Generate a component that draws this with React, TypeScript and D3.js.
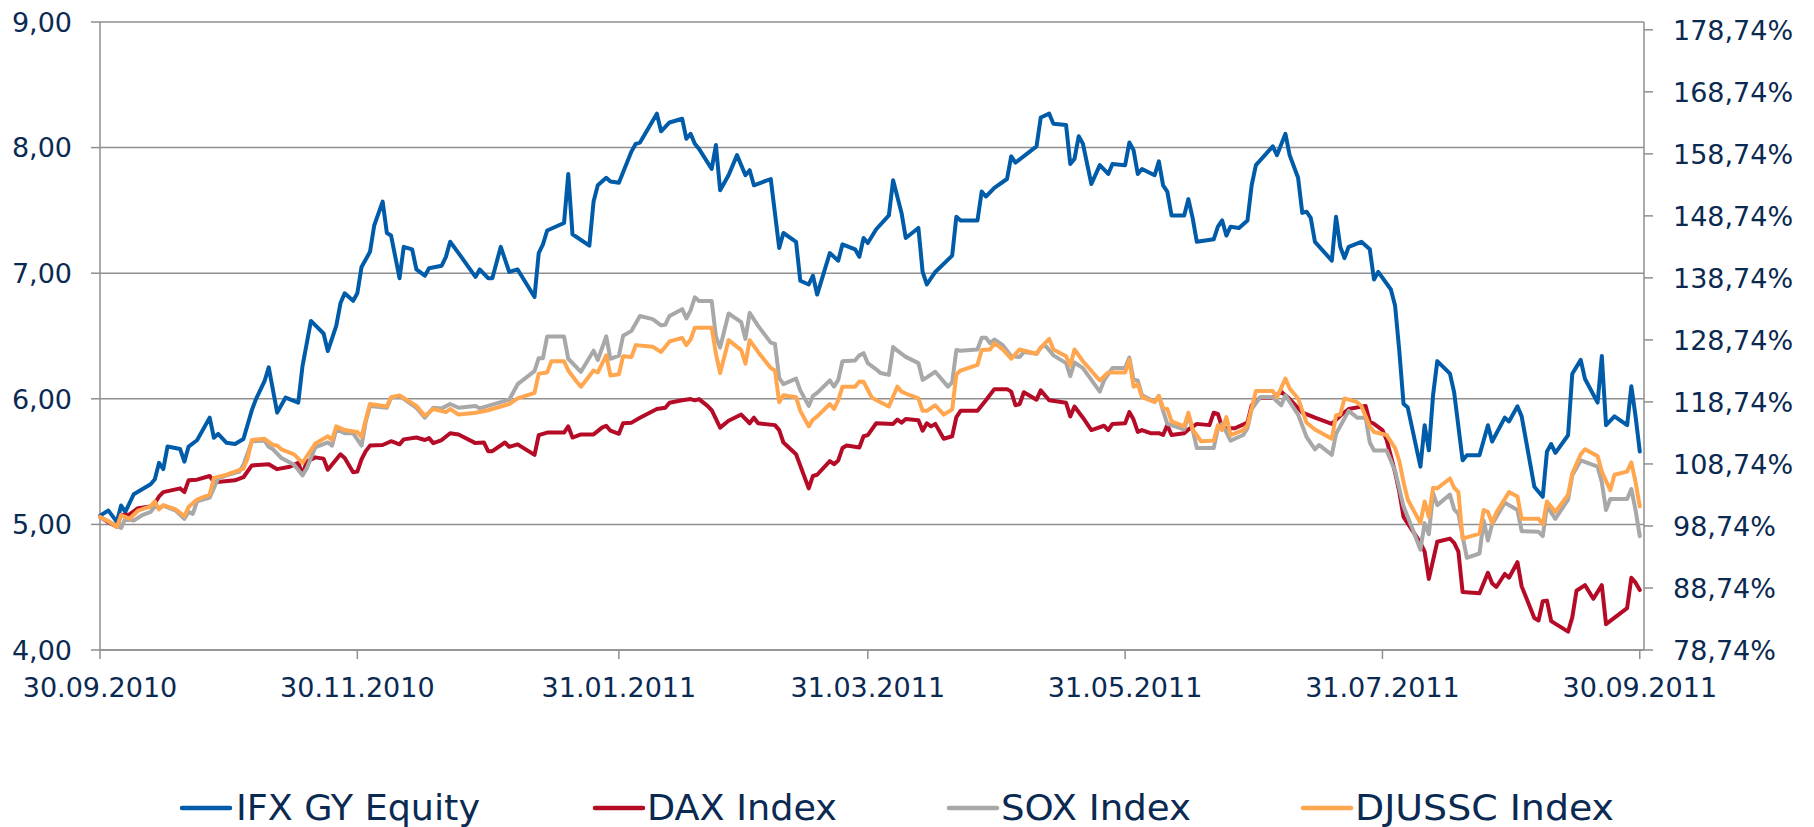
import React from "react";
import * as d3 from "d3";

type Pt = [string, number];

// IFX GY Equity (EUR, left axis)
const ifx: Pt[] = [
  ["2010-09-30",5.07],["2010-10-02",5.11],["2010-10-04",5.02],["2010-10-05",5.15],["2010-10-06",5.10],["2010-10-08",5.24],["2010-10-10",5.28],["2010-10-12",5.32],["2010-10-13",5.36],["2010-10-14",5.49],["2010-10-15",5.44],["2010-10-16",5.62],["2010-10-19",5.60],["2010-10-20",5.50],["2010-10-21",5.62],["2010-10-23",5.67],["2010-10-26",5.85],["2010-10-27",5.69],["2010-10-28",5.72],["2010-10-30",5.65],
  ["2010-11-01",5.64],["2010-11-03",5.68],["2010-11-05",5.91],["2010-11-06",6.00],["2010-11-08",6.14],["2010-11-09",6.25],["2010-11-11",5.89],["2010-11-13",6.01],["2010-11-16",5.97],["2010-11-17",6.26],["2010-11-19",6.62],["2010-11-22",6.52],["2010-11-23",6.38],["2010-11-25",6.58],["2010-11-26",6.76],["2010-11-27",6.84],["2010-11-29",6.78],["2010-11-30",6.84],
  ["2010-12-01",7.05],["2010-12-03",7.17],["2010-12-04",7.38],["2010-12-06",7.57],["2010-12-07",7.32],["2010-12-08",7.30],["2010-12-10",6.96],["2010-12-11",7.21],["2010-12-13",7.19],["2010-12-14",7.03],["2010-12-16",6.98],["2010-12-17",7.04],["2010-12-20",7.06],["2010-12-21",7.13],["2010-12-22",7.25],["2010-12-24",7.16],["2010-12-28",6.97],["2010-12-29",7.03],["2010-12-31",6.96],
  ["2011-01-01",6.96],["2011-01-03",7.21],["2011-01-05",7.01],["2011-01-07",7.03],["2011-01-11",6.81],["2011-01-12",7.16],["2011-01-13",7.23],["2011-01-14",7.34],["2011-01-18",7.40],["2011-01-19",7.79],["2011-01-20",7.31],["2011-01-24",7.22],["2011-01-25",7.57],["2011-01-26",7.70],["2011-01-28",7.76],["2011-01-29",7.73],["2011-01-31",7.72],
  ["2011-02-03",7.97],["2011-02-04",8.03],["2011-02-05",8.04],["2011-02-09",8.27],["2011-02-10",8.13],["2011-02-12",8.20],["2011-02-15",8.23],["2011-02-16",8.07],["2011-02-17",8.11],["2011-02-18",8.03],["2011-02-19",7.99],["2011-02-22",7.83],["2011-02-23",8.02],["2011-02-24",7.66],["2011-02-26",7.78],["2011-02-28",7.94],
  ["2011-03-02",7.78],["2011-03-03",7.82],["2011-03-04",7.70],["2011-03-08",7.75],["2011-03-10",7.20],["2011-03-11",7.32],["2011-03-14",7.25],["2011-03-15",6.94],["2011-03-17",6.91],["2011-03-18",6.98],["2011-03-19",6.83],["2011-03-22",7.16],["2011-03-24",7.10],["2011-03-25",7.23],["2011-03-28",7.19],["2011-03-29",7.13],["2011-03-30",7.28],["2011-03-31",7.24],
  ["2011-04-02",7.35],["2011-04-05",7.46],["2011-04-06",7.74],["2011-04-08",7.48],["2011-04-09",7.28],["2011-04-12",7.36],["2011-04-13",7.01],["2011-04-14",6.91],["2011-04-16",7.01],["2011-04-20",7.14],["2011-04-21",7.45],["2011-04-22",7.42],["2011-04-26",7.42],["2011-04-27",7.65],["2011-04-28",7.61],["2011-04-30",7.68],
  ["2011-05-03",7.75],["2011-05-04",7.93],["2011-05-05",7.88],["2011-05-10",8.01],["2011-05-11",8.24],["2011-05-13",8.27],["2011-05-14",8.19],["2011-05-17",8.18],["2011-05-18",7.87],["2011-05-19",7.91],["2011-05-20",8.09],["2011-05-21",8.03],["2011-05-23",7.71],["2011-05-25",7.86],["2011-05-27",7.79],["2011-05-28",7.87],["2011-05-31",7.86],
  ["2011-06-01",8.04],["2011-06-02",7.98],["2011-06-03",7.79],["2011-06-04",7.83],["2011-06-07",7.78],["2011-06-08",7.89],["2011-06-09",7.70],["2011-06-10",7.65],["2011-06-11",7.46],["2011-06-14",7.46],["2011-06-15",7.59],["2011-06-16",7.44],["2011-06-17",7.25],["2011-06-21",7.27],["2011-06-22",7.37],["2011-06-23",7.42],["2011-06-24",7.30],["2011-06-25",7.37],["2011-06-27",7.36],["2011-06-29",7.42],["2011-06-30",7.70],
  ["2011-07-01",7.86],["2011-07-05",8.01],["2011-07-06",7.94],["2011-07-08",8.11],["2011-07-09",7.94],["2011-07-11",7.76],["2011-07-12",7.48],["2011-07-13",7.49],["2011-07-14",7.44],["2011-07-15",7.25],["2011-07-19",7.10],["2011-07-20",7.45],["2011-07-21",7.21],["2011-07-22",7.12],["2011-07-23",7.21],["2011-07-26",7.25],["2011-07-27",7.22],["2011-07-28",7.19],["2011-07-29",6.95],["2011-07-30",7.01],
  ["2011-08-02",6.87],["2011-08-03",6.74],["2011-08-04",6.38],["2011-08-05",5.96],["2011-08-06",5.93],["2011-08-09",5.46],["2011-08-10",5.79],["2011-08-11",5.59],["2011-08-12",6.03],["2011-08-13",6.30],["2011-08-16",6.20],["2011-08-17",6.05],["2011-08-19",5.51],["2011-08-20",5.55],["2011-08-23",5.55],["2011-08-25",5.79],["2011-08-26",5.66],["2011-08-29",5.85],["2011-08-30",5.82],
  ["2011-09-01",5.94],["2011-09-02",5.86],["2011-09-05",5.30],["2011-09-07",5.22],["2011-09-08",5.58],["2011-09-09",5.64],["2011-09-10",5.57],["2011-09-13",5.71],["2011-09-14",6.20],["2011-09-16",6.31],["2011-09-17",6.16],["2011-09-20",5.97],["2011-09-21",6.34],["2011-09-22",5.79],["2011-09-24",5.86],["2011-09-27",5.79],["2011-09-28",6.10],["2011-09-29",5.86],["2011-09-30",5.58]
];

// DAX Index (%, right axis)
const dax: Pt[] = [
  ["2010-09-30",100.2],["2010-10-02",99.35],["2010-10-04",98.6],["2010-10-05",100.5],["2010-10-07",100.6],["2010-10-09",101.6],["2010-10-12",101.9],["2010-10-13",102.4],["2010-10-14",103.5],["2010-10-15",104.2],["2010-10-19",104.8],["2010-10-20",104.2],["2010-10-21",106.1],["2010-10-23",106.2],["2010-10-26",106.8],["2010-10-27",105.8],["2010-10-29",105.9],
  ["2010-11-01",106.1],["2010-11-03",106.6],["2010-11-05",108.5],["2010-11-09",108.7],["2010-11-11",107.9],["2010-11-14",108.3],["2010-11-16",108.9],["2010-11-17",107.0],["2010-11-18",109.1],["2010-11-20",109.8],["2010-11-22",109.6],["2010-11-23",107.8],["2010-11-26",110.3],["2010-11-27",109.7],["2010-11-29",107.4],["2010-11-30",107.5],
  ["2010-12-01",109.5],["2010-12-02",110.8],["2010-12-03",111.7],["2010-12-06",111.8],["2010-12-08",112.4],["2010-12-10",111.9],["2010-12-11",112.7],["2010-12-14",113.0],["2010-12-16",112.6],["2010-12-17",112.9],["2010-12-18",112.1],["2010-12-20",112.6],["2010-12-22",113.7],["2010-12-24",113.5],["2010-12-28",112.1],["2010-12-30",112.2],["2010-12-31",110.8],
  ["2011-01-01",110.8],["2011-01-04",112.2],["2011-01-05",111.5],["2011-01-07",111.9],["2011-01-11",110.2],["2011-01-12",113.4],["2011-01-14",113.8],["2011-01-18",113.8],["2011-01-19",114.8],["2011-01-20",113.0],["2011-01-22",113.5],["2011-01-25",113.5],["2011-01-27",114.6],["2011-01-28",114.9],["2011-01-29",114.1],["2011-01-31",113.6],
  ["2011-02-01",115.3],["2011-02-03",115.4],["2011-02-05",116.2],["2011-02-09",117.6],["2011-02-11",117.8],["2011-02-12",118.6],["2011-02-15",119.0],["2011-02-17",119.2],["2011-02-18",119.0],["2011-02-19",119.2],["2011-02-21",118.1],["2011-02-22",117.4],["2011-02-24",114.6],["2011-02-26",115.7],
  ["2011-03-01",116.7],["2011-03-03",115.3],["2011-03-04",116.2],["2011-03-05",115.3],["2011-03-09",115.0],["2011-03-10",114.2],["2011-03-11",112.2],["2011-03-14",110.3],["2011-03-17",104.8],["2011-03-18",106.8],["2011-03-19",107.0],["2011-03-22",109.2],["2011-03-23",108.7],["2011-03-24",109.3],["2011-03-25",111.3],["2011-03-26",111.7],["2011-03-29",111.4],["2011-03-30",113.2],["2011-03-31",113.4],
  ["2011-04-02",115.3],["2011-04-06",115.2],["2011-04-07",115.9],["2011-04-08",115.4],["2011-04-09",116.0],["2011-04-12",115.8],["2011-04-13",114.1],["2011-04-14",115.3],["2011-04-15",114.8],["2011-04-16",115.2],["2011-04-18",112.8],["2011-04-20",113.2],["2011-04-21",116.3],["2011-04-22",117.3],["2011-04-26",117.3],["2011-04-28",119.0],["2011-04-30",120.8],
  ["2011-05-03",120.8],["2011-05-04",120.4],["2011-05-05",118.2],["2011-05-06",118.4],["2011-05-07",120.3],["2011-05-10",119.1],["2011-05-11",120.6],["2011-05-13",119.0],["2011-05-17",118.6],["2011-05-18",116.4],["2011-05-19",118.0],["2011-05-21",116.2],["2011-05-23",114.2],["2011-05-26",114.9],["2011-05-27",114.2],["2011-05-28",115.2],["2011-05-31",115.3],
  ["2011-06-01",117.1],["2011-06-02",115.9],["2011-06-03",113.9],["2011-06-04",114.2],["2011-06-06",113.7],["2011-06-08",113.7],["2011-06-09",113.4],["2011-06-10",115.0],["2011-06-11",113.4],["2011-06-14",113.7],["2011-06-15",114.3],["2011-06-17",115.2],["2011-06-20",115.0],["2011-06-21",117.0],["2011-06-22",116.8],["2011-06-23",114.6],["2011-06-24",114.5],["2011-06-26",114.5],["2011-06-29",115.4],["2011-06-30",118.2],
  ["2011-07-02",119.4],["2011-07-05",119.4],["2011-07-07",120.4],["2011-07-09",119.2],["2011-07-12",117.0],["2011-07-14",116.5],["2011-07-15",116.2],["2011-07-19",115.2],["2011-07-21",116.5],["2011-07-23",117.6],["2011-07-27",118.1],["2011-07-28",115.6],["2011-07-29",115.2],["2011-07-31",114.2],
  ["2011-08-01",112.6],["2011-08-02",110.0],["2011-08-03",107.4],["2011-08-04",104.2],["2011-08-05",100.2],["2011-08-09",96.0],["2011-08-10",94.6],["2011-08-11",90.2],["2011-08-13",96.2],["2011-08-16",96.7],["2011-08-17",96.0],["2011-08-18",94.6],["2011-08-19",88.1],["2011-08-23",87.9],["2011-08-25",91.2],["2011-08-26",89.5],["2011-08-27",88.9],["2011-08-29",91.0],["2011-08-30",90.4],
  ["2011-09-01",92.9],["2011-09-02",89.0],["2011-09-05",83.9],["2011-09-06",83.5],["2011-09-07",86.6],["2011-09-08",86.7],["2011-09-09",83.4],["2011-09-13",81.7],["2011-09-14",84.0],["2011-09-15",88.3],["2011-09-17",89.2],["2011-09-19",87.0],["2011-09-21",89.2],["2011-09-22",82.9],["2011-09-27",85.5],["2011-09-28",90.4],["2011-09-29",89.6],["2011-09-30",88.4]
];

// SOX Index (%, right axis)
const sox: Pt[] = [
  ["2010-09-30",100.2],["2010-10-05",98.4],["2010-10-06",99.9],["2010-10-08",99.6],["2010-10-10",100.5],["2010-10-12",101.0],["2010-10-13",101.9],["2010-10-14",101.6],["2010-10-15",102.0],["2010-10-18",101.2],["2010-10-20",99.9],["2010-10-21",101.0],["2010-10-22",100.7],["2010-10-23",102.7],["2010-10-26",103.3],["2010-10-28",106.4],["2010-10-30",106.9],
  ["2010-11-02",107.5],["2010-11-03",108.6],["2010-11-05",112.4],["2010-11-08",112.5],["2010-11-09",111.5],["2010-11-10",111.1],["2010-11-12",109.7],["2010-11-15",108.6],["2010-11-17",106.9],["2010-11-18",108.0],["2010-11-20",111.4],["2010-11-23",112.2],["2010-11-24",111.7],["2010-11-25",114.3],["2010-11-27",113.7],["2010-11-29",113.7],
  ["2010-12-01",111.7],["2010-12-02",115.6],["2010-12-03",118.1],["2010-12-07",117.8],["2010-12-08",119.4],["2010-12-10",119.7],["2010-12-14",117.8],["2010-12-16",116.2],["2010-12-18",117.8],["2010-12-20",117.7],["2010-12-22",118.4],["2010-12-24",117.8],["2010-12-28",118.1],["2010-12-29",117.7],["2010-12-31",118.1],
  ["2011-01-05",119.1],["2011-01-07",121.6],["2011-01-11",123.7],["2011-01-12",125.8],["2011-01-13",125.8],["2011-01-14",129.3],["2011-01-18",129.3],["2011-01-19",125.7],["2011-01-22",123.6],["2011-01-25",127.0],["2011-01-26",125.5],["2011-01-28",129.3],["2011-01-29",125.7],["2011-01-31",126.2],
  ["2011-02-01",129.4],["2011-02-03",130.2],["2011-02-05",132.6],["2011-02-08",132.1],["2011-02-10",131.1],["2011-02-11",131.2],["2011-02-12",132.6],["2011-02-15",133.7],["2011-02-16",132.2],["2011-02-17",133.5],["2011-02-18",135.6],["2011-02-19",135.0],["2011-02-22",135.0],["2011-02-23",129.3],["2011-02-24",127.5],["2011-02-26",133.0],
  ["2011-03-01",131.6],["2011-03-02",128.9],["2011-03-03",133.1],["2011-03-05",131.0],["2011-03-08",128.3],["2011-03-09",128.1],["2011-03-10",122.6],["2011-03-11",121.6],["2011-03-14",122.5],["2011-03-15",120.6],["2011-03-17",118.1],["2011-03-18",119.7],["2011-03-19",120.2],["2011-03-22",122.2],["2011-03-23",121.2],["2011-03-24",122.3],["2011-03-25",125.3],["2011-03-28",125.4],["2011-03-29",126.25],["2011-03-30",126.6],["2011-03-31",125.0],
  ["2011-04-02",124.0],["2011-04-03",123.4],["2011-04-05",123.1],["2011-04-06",127.6],["2011-04-07",127.0],["2011-04-09",126.0],["2011-04-12",125.0],["2011-04-13",122.3],["2011-04-14",122.7],["2011-04-16",123.6],["2011-04-19",121.2],["2011-04-20",121.9],["2011-04-21",127.1],["2011-04-22",127.0],["2011-04-26",127.2],["2011-04-27",129.1],["2011-04-28",129.1],["2011-04-29",128.2],["2011-04-30",128.8],
  ["2011-05-02",127.9],["2011-05-04",126.1],["2011-05-06",126.0],["2011-05-07",126.8],["2011-05-10",126.5],["2011-05-11",127.5],["2011-05-12",127.9],["2011-05-14",126.25],["2011-05-17",125.0],["2011-05-18",122.9],["2011-05-19",125.1],["2011-05-21",124.2],["2011-05-25",120.4],["2011-05-26",122.2],["2011-05-28",124.2],["2011-05-31",124.2],
  ["2011-06-01",125.9],["2011-06-02",122.3],["2011-06-03",122.2],["2011-06-04",119.8],["2011-06-07",118.8],["2011-06-08",119.7],["2011-06-09",117.3],["2011-06-10",115.2],["2011-06-14",114.3],["2011-06-15",116.6],["2011-06-16",114.3],["2011-06-17",111.3],["2011-06-21",111.3],["2011-06-22",114.5],["2011-06-23",115.2],["2011-06-25",112.5],["2011-06-28",113.4],["2011-06-29",114.5],["2011-06-30",117.6],
  ["2011-07-02",119.5],["2011-07-05",119.5],["2011-07-07",118.2],["2011-07-08",119.8],["2011-07-11",116.7],["2011-07-13",113.1],["2011-07-15",111.1],["2011-07-16",111.8],["2011-07-19",110.2],["2011-07-20",113.6],["2011-07-23",117.3],["2011-07-25",116.2],["2011-07-27",116.2],["2011-07-28",112.2],["2011-07-29",110.9],
  ["2011-08-01",110.9],["2011-08-03",107.6],["2011-08-05",101.9],["2011-08-07",98.5],["2011-08-09",94.9],["2011-08-10",99.2],["2011-08-11",97.4],["2011-08-12",104.0],["2011-08-13",102.1],["2011-08-16",103.8],["2011-08-17",101.4],["2011-08-18",100.7],["2011-08-20",93.6],["2011-08-23",94.3],["2011-08-24",99.6],["2011-08-25",96.4],["2011-08-26",99.0],["2011-08-29",102.5],
  ["2011-09-01",101.3],["2011-09-02",97.9],["2011-09-06",97.8],["2011-09-07",97.1],["2011-09-08",101.9],["2011-09-10",99.9],["2011-09-13",103.0],["2011-09-14",106.9],["2011-09-16",109.3],["2011-09-20",108.3],["2011-09-21",105.8],["2011-09-22",101.3],["2011-09-23",103.1],["2011-09-27",103.1],["2011-09-28",104.7],["2011-09-29",101.3],["2011-09-30",97.1]
];

// DJUSSC Index (%, right axis)
const djussc: Pt[] = [
  ["2010-09-30",100.2],["2010-10-02",99.5],["2010-10-04",98.6],["2010-10-05",100.5],["2010-10-07",99.9],["2010-10-09",101.2],["2010-10-12",101.9],["2010-10-13",102.7],["2010-10-14",101.4],["2010-10-15",102.1],["2010-10-18",101.4],["2010-10-20",100.3],["2010-10-21",101.8],["2010-10-23",103.0],["2010-10-26",103.8],["2010-10-27",106.5],["2010-10-30",107.0],
  ["2010-11-03",108.0],["2010-11-04",109.7],["2010-11-05",112.6],["2010-11-08",112.8],["2010-11-10",111.8],["2010-11-11",111.7],["2010-11-12",111.1],["2010-11-15",110.3],["2010-11-17",108.9],["2010-11-20",112.0],["2010-11-23",113.2],["2010-11-24",112.6],["2010-11-25",114.8],["2010-11-27",114.2],["2010-11-30",113.9],
  ["2010-12-01",113.1],["2010-12-02",115.9],["2010-12-03",118.4],["2010-12-07",118.0],["2010-12-08",119.5],["2010-12-10",119.8],["2010-12-14",118.1],["2010-12-16",116.5],["2010-12-18",117.6],["2010-12-21",117.1],["2010-12-22",117.6],["2010-12-24",116.7],["2010-12-28",117.0],["2010-12-31",117.4],
  ["2011-01-05",118.4],["2011-01-07",119.3],["2011-01-11",120.2],["2011-01-12",123.3],["2011-01-14",123.5],["2011-01-15",125.3],["2011-01-18",125.3],["2011-01-19",123.8],["2011-01-21",122.0],["2011-01-22",121.2],["2011-01-25",123.8],["2011-01-26",123.5],["2011-01-28",126.25],["2011-01-29",123.0],["2011-01-31",123.2],
  ["2011-02-01",126.1],["2011-02-03",126.0],["2011-02-04",127.9],["2011-02-08",127.65],["2011-02-10",126.8],["2011-02-12",128.5],["2011-02-15",129.05],["2011-02-16",127.9],["2011-02-17",128.8],["2011-02-18",130.7],["2011-02-22",130.7],["2011-02-23",126.5],["2011-02-24",123.4],["2011-02-26",128.7],
  ["2011-03-01",127.1],["2011-03-02",124.9],["2011-03-03",128.7],["2011-03-05",126.8],["2011-03-08",124.2],["2011-03-09",123.8],["2011-03-10",118.7],["2011-03-11",119.8],["2011-03-14",119.5],["2011-03-15",117.3],["2011-03-17",114.8],["2011-03-18",115.9],["2011-03-19",116.4],["2011-03-22",118.4],["2011-03-23",117.6],["2011-03-24",119.0],["2011-03-25",121.2],["2011-03-28",121.2],["2011-03-29",122.05],["2011-03-30",122.0],
  ["2011-04-01",119.4],["2011-04-03",118.7],["2011-04-05",118.0],["2011-04-07",121.2],["2011-04-08",120.4],["2011-04-09",120.1],["2011-04-12",119.3],["2011-04-13",117.3],["2011-04-14",117.3],["2011-04-16",118.2],["2011-04-18",116.7],["2011-04-20",117.5],["2011-04-21",123.2],["2011-04-22",123.8],["2011-04-26",124.7],["2011-04-27",127.1],["2011-04-29",127.2],["2011-04-30",128.2],
  ["2011-05-02",127.2],["2011-05-04",125.7],["2011-05-06",127.2],["2011-05-10",126.5],["2011-05-11",127.5],["2011-05-13",128.9],["2011-05-14",127.2],["2011-05-17",126.1],["2011-05-18",124.6],["2011-05-19",127.2],["2011-05-21",125.3],["2011-05-25",122.2],["2011-05-27",123.5],["2011-05-31",123.5],
  ["2011-06-01",125.5],["2011-06-02",121.2],["2011-06-03",121.6],["2011-06-04",119.5],["2011-06-07",118.7],["2011-06-08",119.7],["2011-06-09",117.8],["2011-06-10",117.6],["2011-06-11",115.6],["2011-06-14",114.8],["2011-06-15",117.0],["2011-06-16",114.3],["2011-06-18",112.4],["2011-06-21",112.5],["2011-06-22",115.0],["2011-06-23",114.2],["2011-06-24",116.3],["2011-06-25",113.4],["2011-06-28",114.2],["2011-06-29",115.0],
  ["2011-07-01",120.5],["2011-07-05",120.5],["2011-07-06",119.5],["2011-07-08",122.5],["2011-07-09",120.9],["2011-07-11",119.3],["2011-07-13",115.4],["2011-07-15",114.3],["2011-07-19",112.8],["2011-07-20",116.6],["2011-07-21",116.7],["2011-07-22",119.3],["2011-07-25",118.7],["2011-07-26",118.1],["2011-07-28",114.8],["2011-07-29",113.9],
  ["2011-08-01",113.4],["2011-08-03",111.3],["2011-08-04",109.2],["2011-08-05",105.8],["2011-08-06",103.0],["2011-08-09",99.2],["2011-08-10",102.7],["2011-08-11",100.2],["2011-08-12",104.9],["2011-08-13",104.8],["2011-08-16",106.4],["2011-08-17",104.9],["2011-08-18",104.2],["2011-08-19",96.7],["2011-08-23",97.5],["2011-08-24",101.3],["2011-08-25",101.0],["2011-08-26",99.2],["2011-08-27",100.9],["2011-08-30",104.2],
  ["2011-09-01",103.5],["2011-09-02",99.9],["2011-09-06",99.9],["2011-09-07",99.0],["2011-09-08",102.7],["2011-09-10",101.0],["2011-09-13",103.8],["2011-09-14",107.2],["2011-09-16",110.3],["2011-09-17",111.1],["2011-09-20",110.0],["2011-09-21",107.5],["2011-09-23",104.5],["2011-09-24",107.0],["2011-09-27",107.5],["2011-09-28",109.0],["2011-09-29",105.8],["2011-09-30",101.9]
];

const leftTicks = [4, 5, 6, 7, 8, 9];
const rightTicks = [78.74, 88.74, 98.74, 108.74, 118.74, 128.74, 138.74, 148.74, 158.74, 168.74, 178.74];
const xTicks = ["2010-09-30", "2010-11-30", "2011-01-31", "2011-03-31", "2011-05-31", "2011-07-31", "2011-09-30"];

const seriesDefs = [
  { name: "IFX GY Equity", data: ifx, axis: "left", color: "#005ca9" },
  { name: "DAX Index", data: dax, axis: "right", color: "#b50b27" },
  { name: "SOX Index", data: sox, axis: "right", color: "#a8a8a8" },
  { name: "DJUSSC Index", data: djussc, axis: "right", color: "#ffa64f" },
];

const W = 1814, H = 827;
const L = 100, R = 1644, T = 22, B = 650;
const TEXT = "#0b2a52";
const FONT = "'DejaVu Sans', Verdana, sans-serif";

const parse = d3.utcParse("%Y-%m-%d");
const fmtDate = d3.utcFormat("%d.%m.%Y");
const fmtNum = (v: number) => v.toFixed(2).replace(".", ",");

export default function App() {
  const x = d3.scaleUtc().domain([parse("2010-09-30")!, parse("2011-10-01")!]).range([L, R]);
  const yL = d3.scaleLinear().domain([4, 9]).range([B, T]);
  const yR = d3.scaleLinear().domain([78.74, 180]).range([B, T]);

  const legendItems = [
    { lx: 182, tx: 236, tw: 244 },
    { lx: 595, tx: 647, tw: 190 },
    { lx: 949, tx: 1001, tw: 190 },
    { lx: 1303, tx: 1355, tw: 259 },
  ];

  return (
    <svg width={W} height={H} style={{ position: "absolute", left: 0, top: 0, background: "#fff" }} fontFamily={FONT}>
      <rect x={0} y={0} width={W} height={H} fill="#fff" />
      {leftTicks.map((t) => (
        <line key={"g" + t} x1={L} x2={R} y1={yL(t)} y2={yL(t)} stroke="#8f8f8f" strokeWidth={1.5} />
      ))}
      <line x1={L} x2={L} y1={T} y2={B} stroke="#8f8f8f" strokeWidth={1.5} />
      <line x1={R} x2={R} y1={T} y2={B} stroke="#8f8f8f" strokeWidth={1.5} />
      <line x1={L} x2={R} y1={B} y2={B} stroke="#8f8f8f" strokeWidth={1.5} />
      {leftTicks.map((t) => (
        <g key={"l" + t}>
          <line x1={L - 9} x2={L} y1={yL(t)} y2={yL(t)} stroke="#8f8f8f" strokeWidth={1.5} />
          <text x={72} y={yL(t)} dy="0.36em" textAnchor="end" fontSize={27} fill={TEXT}>{fmtNum(t)}</text>
        </g>
      ))}
      {rightTicks.map((t) => (
        <g key={"r" + t}>
          <line x1={R} x2={R + 9} y1={yR(t)} y2={yR(t)} stroke="#8f8f8f" strokeWidth={1.5} />
          <text x={1673} y={yR(t)} dy="0.36em" textAnchor="start" fontSize={27} fill={TEXT}>{fmtNum(t) + "%"}</text>
        </g>
      ))}
      {xTicks.map((s) => {
        const d = parse(s)!;
        return (
          <g key={"x" + s}>
            <line x1={x(d)} x2={x(d)} y1={B} y2={B + 9} stroke="#8f8f8f" strokeWidth={1.5} />
            <text x={x(d)} y={697} textAnchor="middle" fontSize={27} fill={TEXT}>{fmtDate(d)}</text>
          </g>
        );
      })}
      {seriesDefs.map((s) => {
        const y = s.axis === "left" ? yL : yR;
        const line = d3
          .line<Pt>()
          .x((p) => x(parse(p[0])!))
          .y((p) => y(p[1]));
        return (
          <path key={s.name} d={line(s.data) || ""} fill="none" stroke={s.color} strokeWidth={4} strokeLinejoin="round" strokeLinecap="round" />
        );
      })}
      {seriesDefs.map((s, i) => (
        <g key={"lg" + s.name}>
          <line x1={legendItems[i].lx} x2={legendItems[i].lx + 48} y1={808} y2={808} stroke={s.color} strokeWidth={4.5} strokeLinecap="round" />
          <text x={legendItems[i].tx} y={820} fontSize={36} fill={TEXT} textLength={legendItems[i].tw} lengthAdjust="spacingAndGlyphs">{s.name}</text>
        </g>
      ))}
    </svg>
  );
}
